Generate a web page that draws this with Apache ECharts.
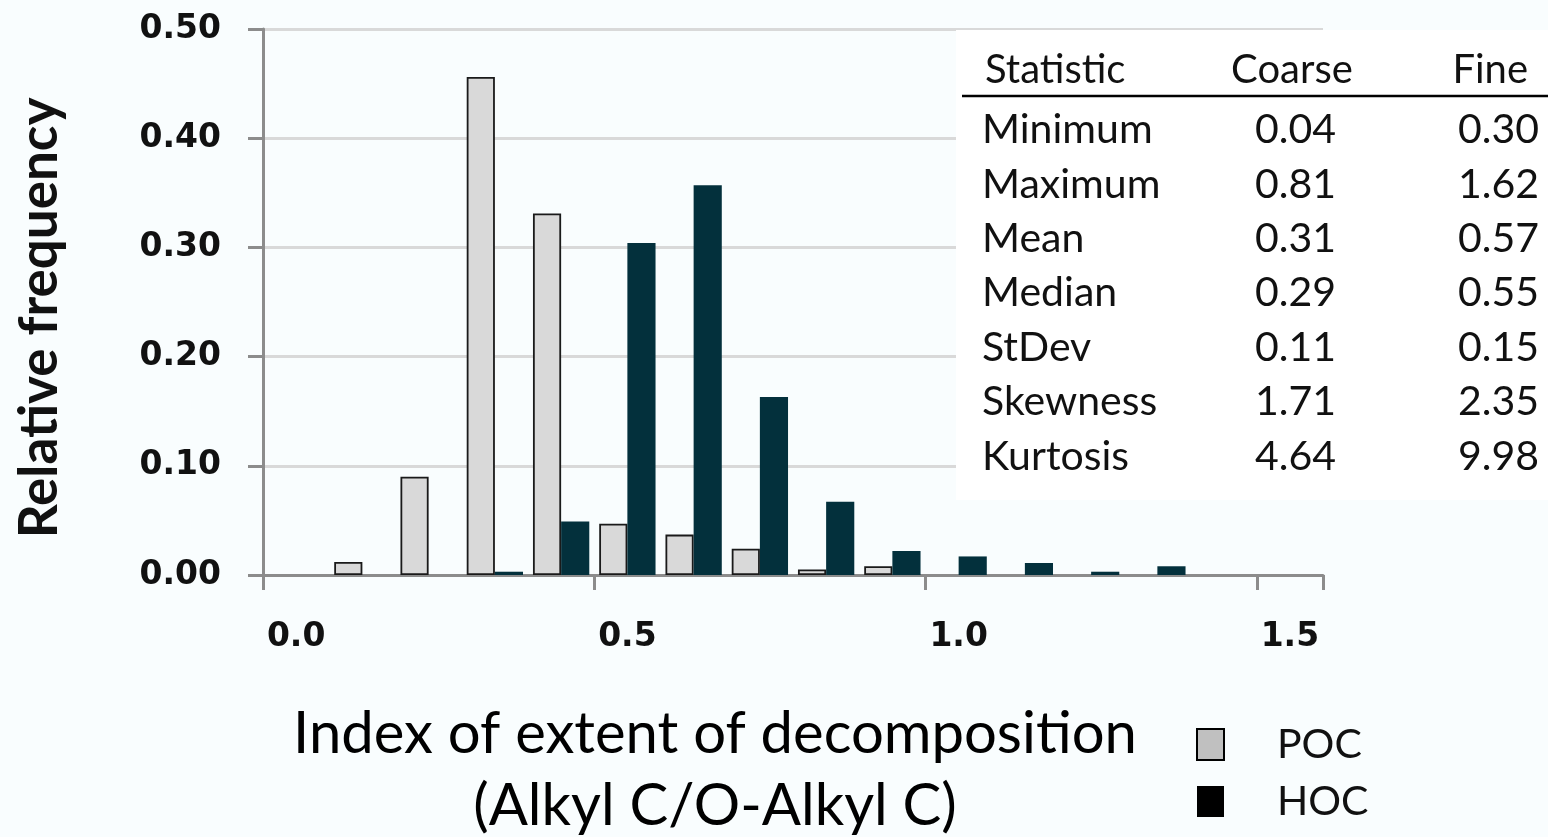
<!DOCTYPE html>
<html>
<head>
<meta charset="utf-8">
<script src="https://cdn.jsdelivr.net/npm/echarts@6/dist/echarts.min.js"></script>
<style>
  html, body { margin: 0; padding: 0; background: #f9fdfe; }
  #chart { width: 1548px; height: 837px; }
</style>
</head>
<body>
<div id="chart"></div>
<script>
// Bin labels (lower edge of each 0.1-wide bin)
const categories = ['0.0','0.1','0.2','0.3','0.4','0.5','0.6','0.7','0.8','0.9','1.0','1.1','1.2','1.3','1.4','1.5'];
// Relative frequency per bin ('-' = empty bin)
const pocValues = ['-', 0.012, 0.090, 0.456, 0.331, 0.047, 0.037, 0.024, 0.005, 0.008, '-', '-', '-', '-', '-', '-'];
const hocValues = ['-', '-', '-', 0.003, 0.049, 0.304, 0.357, 0.163, 0.067, 0.022, 0.017, 0.011, 0.003, 0.008, '-', '-'];
// Summary statistics table
const statHeader = ['Statistic', 'Coarse', 'Fine'];
const statNames = ['Minimum', 'Maximum', 'Mean', 'Median', 'StDev', 'Skewness', 'Kurtosis'];
const coarseStats = ['0.04', '0.81', '0.31', '0.29', '0.11', '1.71', '4.64'];
const fineStats = ['0.30', '1.62', '0.57', '0.55', '0.15', '2.35', '9.98'];

const chart = echarts.init(document.getElementById('chart'), null, { renderer: 'canvas' });

const textFont = 'Lato, "Open Sans", sans-serif';
const tickFont = '"DejaVu Sans", Verdana, sans-serif';

// Statistics table drawn as graphic elements on a white panel
const table = [];
table.push({ type: 'rect', shape: { x: 956, y: 30, width: 592, height: 470 }, style: { fill: '#ffffff' }, z: 10, silent: true });
const headerY = 70;
const colX = [985, 1292, 1528];
const colAlign = ['left', 'center', 'right'];
statHeader.forEach((h, i) => {
  table.push({ type: 'text', x: colX[i], y: headerY, z: 11, silent: true,
    style: { text: h, font: '40px ' + textFont, fill: '#111', align: colAlign[i], verticalAlign: 'middle' } });
});
table.push({ type: 'line', shape: { x1: 962, y1: 96, x2: 1548, y2: 96 }, style: { stroke: '#000', lineWidth: 2.5 }, z: 11, silent: true });
statNames.forEach((name, r) => {
  const y = 130 + r * 54.4;
  table.push({ type: 'text', x: 982, y: y, z: 11, silent: true,
    style: { text: name, font: '41px ' + textFont, fill: '#111', align: 'left', verticalAlign: 'middle' } });
  table.push({ type: 'text', x: 1336, y: y, z: 11, silent: true,
    style: { text: coarseStats[r], font: '41px ' + textFont, fill: '#111', align: 'right', verticalAlign: 'middle' } });
  table.push({ type: 'text', x: 1539, y: y, z: 11, silent: true,
    style: { text: fineStats[r], font: '41px ' + textFont, fill: '#111', align: 'right', verticalAlign: 'middle' } });
});

const option = {
  backgroundColor: '#f9fdfe',
  animation: false,
  grid: { left: 263, right: 225, top: 29, bottom: 262, containLabel: false, outerBoundsMode: 'none' },
  xAxis: {
    type: 'category',
    data: categories,
    boundaryGap: true,
    axisLine: { show: true, lineStyle: { color: '#8c8c8c', width: 3 } },
    axisTick: { show: true, interval: 4, length: 15, lineStyle: { color: '#8c8c8c', width: 3 } },
    axisLabel: { interval: 4, margin: 46, color: '#111', fontFamily: tickFont, fontWeight: 'bold', fontSize: 33 },
    splitLine: { show: false }
  },
  yAxis: {
    type: 'value',
    min: 0, max: 0.5, interval: 0.1,
    axisLine: { show: true, lineStyle: { color: '#8c8c8c', width: 3 } },
    axisTick: { show: true, length: 15, lineStyle: { color: '#8c8c8c', width: 3 } },
    axisLabel: { margin: 42, color: '#111', fontFamily: tickFont, fontWeight: 'bold', fontSize: 33,
      formatter: v => v.toFixed(2) },
    splitLine: { show: true, lineStyle: { color: '#d9d9d9', width: 3 } }
  },
  legend: {
    orient: 'vertical',
    left: 1196, top: 724,
    itemWidth: 27, itemHeight: 31, itemGap: 16,
    padding: 0,
    icon: 'rect',
    textStyle: { fontFamily: textFont, fontSize: 41, color: '#111', padding: [0, 0, 0, 48] },
    data: [
      { name: 'POC', itemStyle: { color: '#c0c0c0', borderColor: '#000', borderWidth: 2 } },
      { name: 'HOC', itemStyle: { color: '#000', borderWidth: 0 } }
    ]
  },
  series: [
    {
      name: 'POC', type: 'bar', data: pocValues,
      barGap: '0%', barCategoryGap: '15%',
      itemStyle: { color: '#d9d9d9', borderColor: '#1a1a1a', borderWidth: 1.8 }
    },
    {
      name: 'HOC', type: 'bar', data: hocValues,
      barGap: '0%', barCategoryGap: '15%',
      itemStyle: { color: '#03303c', borderWidth: 0 }
    }
  ],
  graphic: [
    ...table,
    { type: 'text', x: 40, y: 318, rotation: Math.PI / 2, z: 11, silent: true,
      style: { text: 'Relative frequency', font: 'bold 53px ' + textFont, fill: '#111', align: 'center', verticalAlign: 'middle' } },
    { type: 'text', x: 715, y: 770, z: 11, silent: true,
      style: { text: 'Index of extent of decomposition\n(Alkyl C/O-Alkyl C)', font: '58px ' + textFont, fill: '#000',
        align: 'center', verticalAlign: 'middle', lineHeight: 72 } }
  ]
};

chart.setOption(option);
</script>
</body>
</html>
